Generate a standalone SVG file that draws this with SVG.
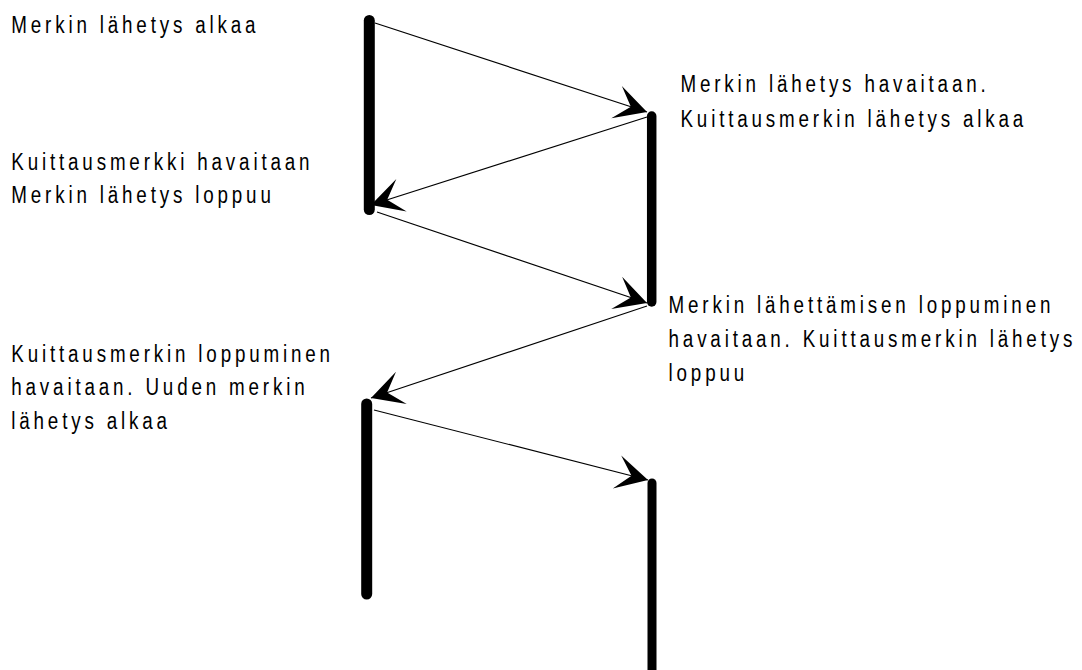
<svg xmlns="http://www.w3.org/2000/svg" width="1082" height="670" viewBox="0 0 1082 670">
  <style>
    .bar { stroke: #000; stroke-linecap: round; fill: none; }
    .msg { stroke: #000; stroke-width: 1.2; fill: none; marker-end: url(#barb); }
    .lbl { font-family: "Liberation Sans", Arial, sans-serif; font-size: 23.5px; letter-spacing: 4.8px; fill: #000; }
  </style>
  <defs>
    <marker id="barb" markerUnits="userSpaceOnUse" viewBox="-34 -18 36 36" refX="0" refY="0" markerWidth="36" markerHeight="36" orient="auto">
      <path d="M0,0 L-32,-17 L-17,0 L-32,17 Z" fill="#000"/>
    </marker>
  </defs>
  <rect width="1082" height="670" fill="#fff"/>

  <g id="bar-sender-1"><line class="bar" x1="369.3" y1="20.5" x2="369.3" y2="209.5" stroke-width="11"/></g>
  <g id="bar-receiver-1"><line class="bar" x1="651.7" y1="116" x2="651.7" y2="302" stroke-width="9.5"/></g>
  <g id="bar-sender-2"><line class="bar" x1="366.7" y1="404" x2="366.7" y2="594" stroke-width="11"/></g>
  <g id="bar-receiver-2"><line class="bar" x1="652" y1="483" x2="652" y2="690" stroke-width="9"/></g>

  <g id="connectors">
    <line class="msg" x1="375" y1="23" x2="647" y2="112"/>
    <line class="msg" x1="647" y1="117" x2="371" y2="205"/>
    <line class="msg" x1="377" y1="212" x2="647" y2="303"/>
    <line class="msg" x1="647" y1="306" x2="371" y2="398"/>
    <line class="msg" x1="374" y1="410" x2="648" y2="480"/>
  </g>

  <g transform="scale(0.8,1)">
    <g id="label-1">
      <text class="lbl" x="14.1" y="33">Merkin lähetys alkaa</text>
    </g>
    <g id="label-2">
      <text class="lbl" x="14.1" y="170">Kuittausmerkki havaitaan</text>
      <text class="lbl" x="14.1" y="203">Merkin lähetys loppuu</text>
    </g>
    <g id="label-3">
      <text class="lbl" x="850.6" y="92">Merkin lähetys havaitaan.</text>
      <text class="lbl" x="850.6" y="127.5">Kuittausmerkin lähetys alkaa</text>
    </g>
    <g id="label-4">
      <text class="lbl" x="835.7" y="313">Merkin lähettämisen loppuminen</text>
      <text class="lbl" x="835.7" y="347">havaitaan. Kuittausmerkin lähetys</text>
      <text class="lbl" x="835.7" y="381">loppuu</text>
    </g>
    <g id="label-5">
      <text class="lbl" x="14.1" y="362">Kuittausmerkin loppuminen</text>
      <text class="lbl" x="14.1" y="395.5">havaitaan. Uuden merkin</text>
      <text class="lbl" x="14.1" y="429">lähetys alkaa</text>
    </g>
  </g>
</svg>
